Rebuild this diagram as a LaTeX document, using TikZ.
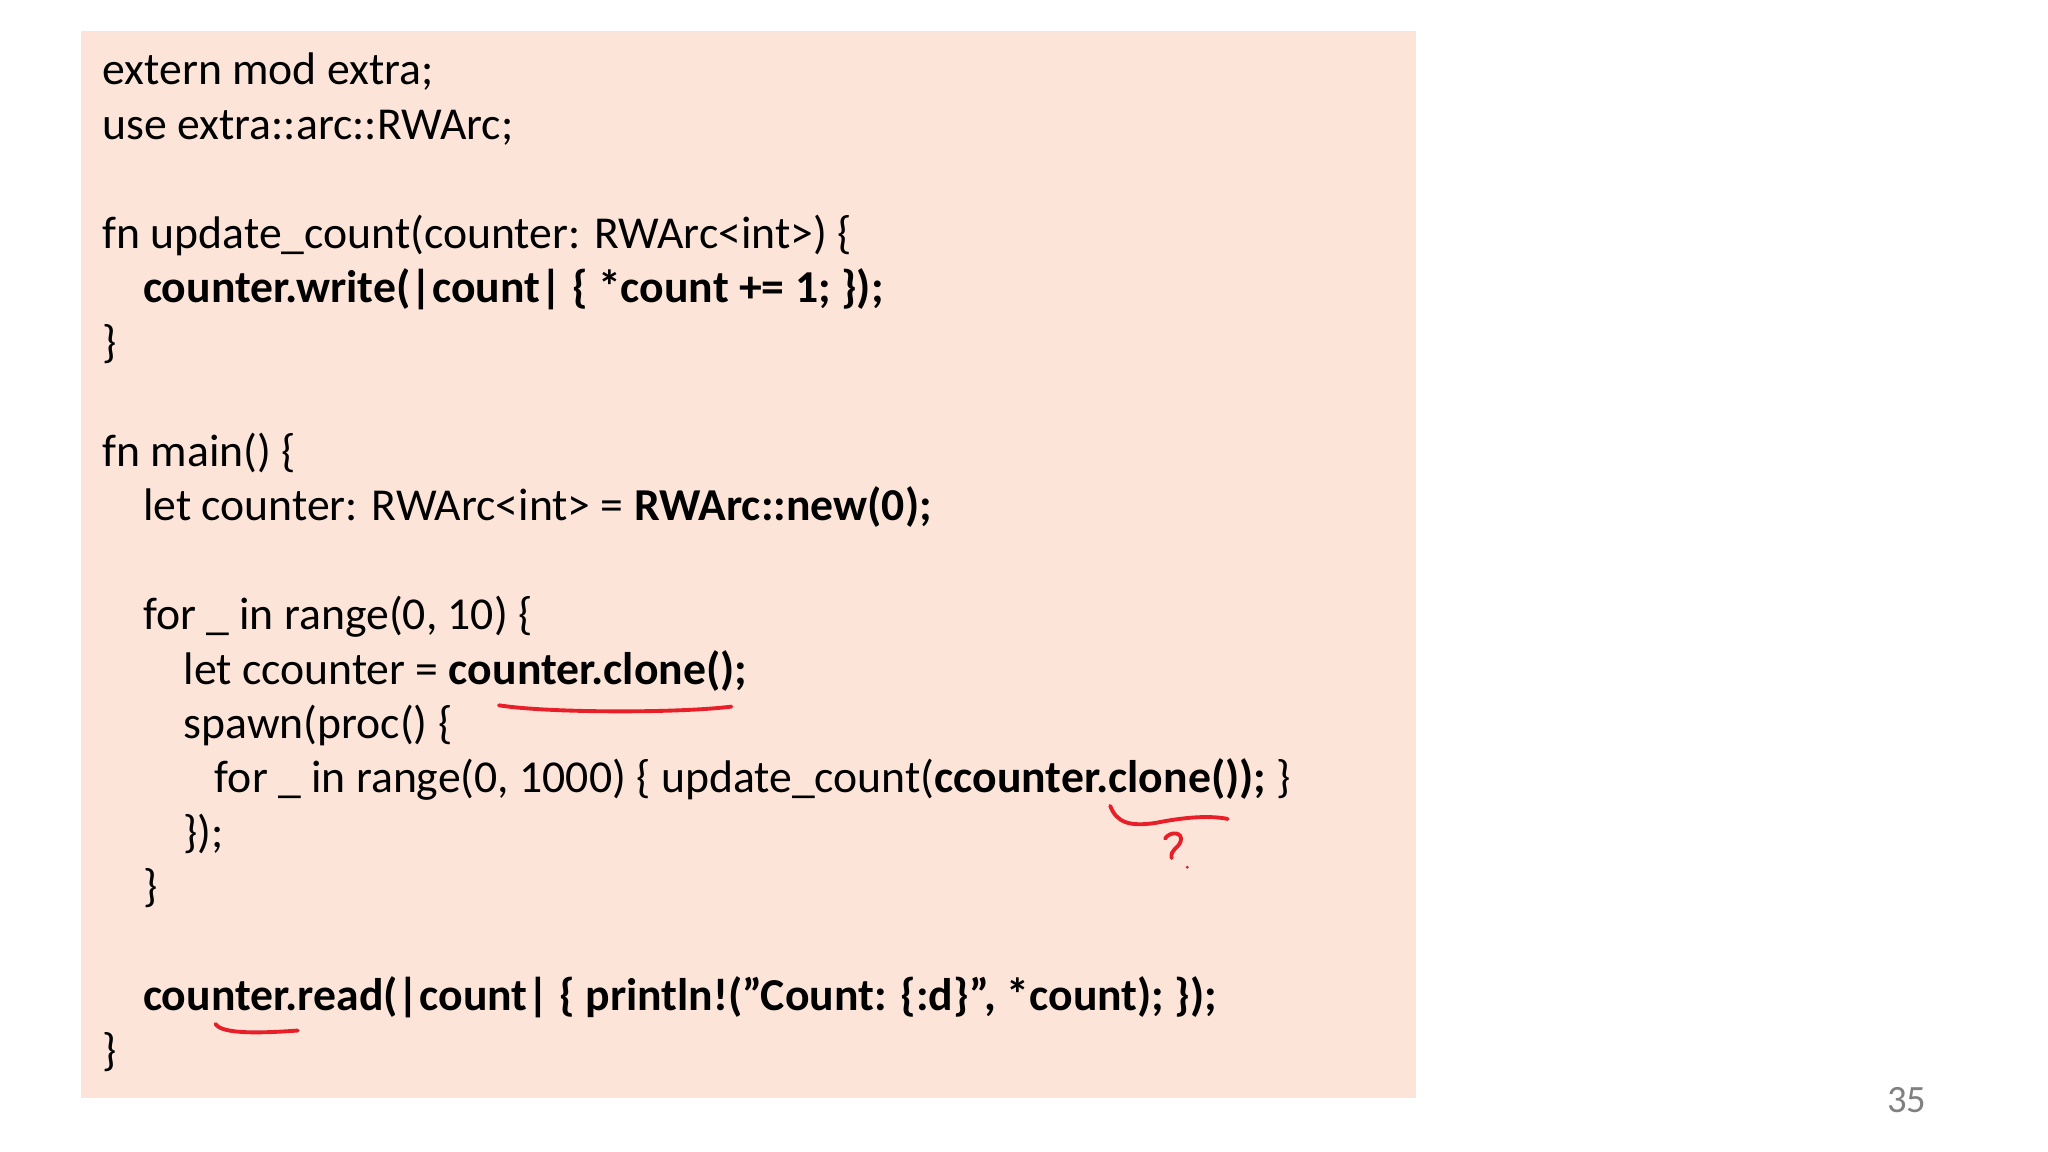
\documentclass[tikz,border=0pt]{standalone}
\usepackage{fontspec}
\defaultfontfeatures{}
\setmainfont{Carlito}
\definecolor{peach}{RGB}{252,229,216}
\definecolor{pen}{RGB}{232,30,40}
\begin{document}
\begin{tikzpicture}[x=0.01306cm,y=-0.01306cm,
  code/.style={anchor=base west,inner sep=0pt,font=\fontsize{13pt}{15pt}\selectfont},
  ink/.style={draw=pen,line width=1.1pt,line cap=round}]
\useasboundingbox (0,0) rectangle (1568,882);
\fill[peach] (62,24) rectangle (1084,841);
\def\B#1{65+41.7*#1}
\def\q{\symbol{34}}
\node[code] (l0) at (78,{\B{0}}) {extern mod extra;};
\node[code] (l1) at (78,{\B{1}}) {use extra::arc::RWArc;};
\node[code] (l3) at (78,{\B{3}}) {fn update\_count(counter: RWArc<int>) \{};
\node[code] (l4) at (109,{\B{4}}) {\bfseries counter.write(|count| \{ *count += 1; \});};
\node[code] (l5) at (78,{\B{5}}) {\}};
\node[code] (l7) at (78,{\B{7}}) {fn main() \{};
\node[code] (l8) at (109,{\B{8}}) {let counter: RWArc<int> = \textbf{RWArc::new(0);}};
\node[code] (l10) at (109,{\B{10}}) {for \_ in range(0, 10) \{};
\node[code] (l11) at (140,{\B{11}}) {let ccounter = \textbf{counter.clone();}};
\node[code] (l12) at (140,{\B{12}}) {spawn(proc() \{};
\node[code] (l13) at (164,{\B{13}}) {for \_ in range(0, 1000) \{ update\_count(\textbf{ccounter.clone());} \}};
\node[code] (l14) at (140,{\B{14}}) {\});};
\node[code] (l15) at (109,{\B{15}}) {\}};
\node[code] (l17) at (109,{\B{17}}) {\bfseries counter.read(|count| \{ println!(\q Count: \{:d\}\q, *count); \});};
\node[code] (l18) at (78,{\B{18}}) {\}};
\node[anchor=center,inner sep=0pt,text=gray,font=\fontsize{11pt}{13pt}\selectfont] (pg) at (1460,842) {35};
\draw[ink] (382,540) .. controls (420,546) and (520,546) .. (560,541);
\draw[ink] (850,617) .. controls (855,630) and (865,633) .. (885,630) .. controls (905,626) and (925,624) .. (940,627);
\draw[ink] (892,642) .. controls (896,636) and (906,637) .. (904,644) .. controls (902,650) and (896,650) .. (897,657);
\fill[pen] (909,664) circle (1.3);
\draw[ink] (165,784) .. controls (170,792) and (200,791) .. (228,789);
\end{tikzpicture}
\end{document}
